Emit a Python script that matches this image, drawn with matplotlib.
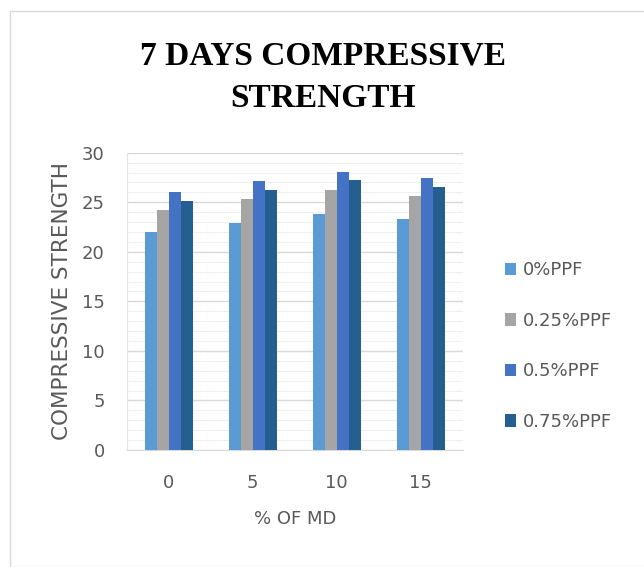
import matplotlib.pyplot as plt
import matplotlib.patches as mpatches
import matplotlib.ticker as ticker
import numpy as np

plt.rcParams['font.family'] = ['DejaVu Sans']

# data
md_levels = ["0", "5", "10", "15"]
series_names = ["0%PPF", "0.25%PPF", "0.5%PPF", "0.75%PPF"]
ppf_0 = [22.0, 22.9, 23.8, 23.3]
ppf_025 = [24.2, 25.3, 26.2, 25.6]
ppf_05 = [26.0, 27.1, 28.1, 27.4]
ppf_075 = [25.1, 26.2, 27.2, 26.5]

colors = ["#5B9BD5", "#A5A5A5", "#4472C4", "#255E91"]
text_grey = "#595959"

fig = plt.figure(figsize=(6.44, 5.67), dpi=100, facecolor="white")

# outer chart frame
frame = mpatches.Rectangle((10 / 644, 0.0), 1.0, 1 - 11 / 567, transform=fig.transFigure,
                           fill=False, edgecolor="#d9d9d9", linewidth=1.0)
fig.add_artist(frame)

ax = fig.add_axes([0.197, 0.2063, 0.5215, 0.5244])

x = np.arange(len(md_levels))
bar_w = 0.142
all_series = [ppf_0, ppf_025, ppf_05, ppf_075]
for i, (vals, name, c) in enumerate(zip(all_series, series_names, colors)):
    ax.bar(x + (i - 1.5) * bar_w, vals, width=bar_w, color=c, label=name, zorder=3)

ax.set_xlim(-0.5, 3.5)
ax.set_ylim(0, 30)
ax.set_xticks(x)
ax.set_xticklabels(md_levels)
ax.yaxis.set_major_locator(ticker.MultipleLocator(5))
ax.yaxis.set_minor_locator(ticker.MultipleLocator(1))

ax.grid(True, which="major", axis="y", color="#d9d9d9", linewidth=1.0, zorder=0)
ax.grid(True, which="minor", axis="y", color="#f0f0f0", linewidth=0.8, zorder=0)

for s in ["top", "right"]:
    ax.spines[s].set_visible(False)
ax.spines["left"].set_color("#e3e3e3")
ax.spines["bottom"].set_color("#d9d9d9")
ax.tick_params(axis="both", which="both", length=0, labelsize=13, labelcolor=text_grey)
ax.tick_params(axis="x", pad=17)
ax.tick_params(axis="y", pad=16)

ax.set_xlabel("% OF MD", fontsize=13, color=text_grey, labelpad=13)
ax.set_ylabel("COMPRESSIVE STRENGTH", fontsize=15.5, color=text_grey, labelpad=7)

fig.text(0.5008, 1 - 77.5 / 567, "7 DAYS COMPRESSIVE\nSTRENGTH", ha="center", va="center",
         family="Liberation Serif", weight="bold", fontsize=24, linespacing=1.46)

leg = ax.legend(loc="center left", bbox_to_anchor=(1.105, 0.35), frameon=False,
                fontsize=13, labelspacing=1.8, handlelength=0.6, handleheight=0.7,
                handletextpad=0.4, borderaxespad=0)
for t in leg.get_texts():
    t.set_color(text_grey)

plt.savefig("out.png", dpi=100)
